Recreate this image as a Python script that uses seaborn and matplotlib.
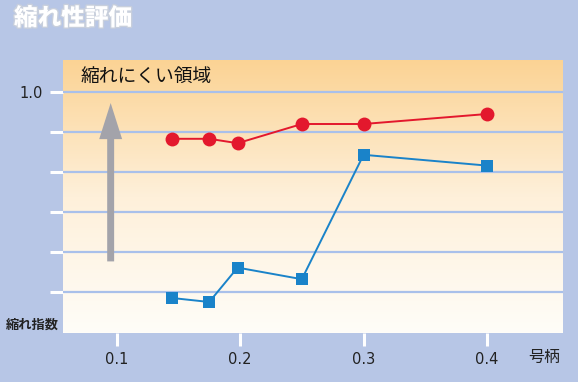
import numpy as np
import pandas as pd
import matplotlib.pyplot as plt
import matplotlib.patheffects as pe
from matplotlib.colors import LinearSegmentedColormap
import seaborn as sns

# data
x_red = [0.145, 0.175, 0.198, 0.25, 0.30, 0.40]
y_red = [0.883, 0.883, 0.872, 0.920, 0.920, 0.945]
x_blue = [0.145, 0.175, 0.198, 0.25, 0.30, 0.40]
y_blue = [0.485, 0.475, 0.561, 0.532, 0.843, 0.816]
x_ticks = [0.1, 0.2, 0.3, 0.4]
y_ticks = [0.5, 0.6, 0.7, 0.8, 0.9, 1.0]
y_ticklabels = ["", "", "", "", "", "1.0"]

sns.set_theme(style="white")
plt.rcParams['font.family'] = ['Noto Sans CJK JP', 'DejaVu Sans']

bg = "#b7c6e6"
fig = plt.figure(figsize=(5.78, 3.82), dpi=100, facecolor=bg)
ax = fig.add_axes([63/578, 1-333/382, 500/578, 273/382])
ax.set_facecolor("white")

# orange -> white vertical gradient
cmap = LinearSegmentedColormap.from_list("bg", ["#fffdf8", "#fef0da", "#fbd394"])
grad = np.linspace(0, 1, 256).reshape(-1, 1)
ax.imshow(grad, cmap=cmap, aspect="auto", origin="lower",
          extent=[0, 1, 0, 1], transform=ax.transAxes, zorder=0)

ax.set_xlim(0.0566, 0.4615)
ax.set_ylim(0.3975, 1.08)

for yv in y_ticks:
    ax.axhline(yv, color="#a9c0ea", lw=1.6, zorder=1)

df_red = pd.DataFrame({"x": x_red, "y": y_red})
df_blue = pd.DataFrame({"x": x_blue, "y": y_blue})
sns.lineplot(data=df_red, x="x", y="y", ax=ax, color="#e3182d", lw=1.4,
             marker="o", markersize=10, markeredgewidth=0, zorder=4)
sns.lineplot(data=df_blue, x="x", y="y", ax=ax, color="#1a83c9", lw=1.4,
             marker="s", markersize=8.5, markeredgewidth=0, zorder=4)

# gray arrow (filled, flat shaft)
ax.annotate("", xy=(0.0952, 0.9725), xytext=(0.0952, 0.5765),
            arrowprops=dict(arrowstyle="simple,head_length=26,head_width=16.5,tail_width=5",
                            mutation_scale=1, fc="#a3a3aa", ec="none", lw=0,
                            shrinkA=0, shrinkB=0),
            zorder=3)

ax.text(0.0705, 1.038, "縮れにくい領域", fontsize=13.5, color="#111111",
        va="center", ha="left", zorder=5)

for s in ax.spines.values():
    s.set_visible(False)

ax.set_xticks(x_ticks)
ax.set_xticklabels([f"{v:.1f}" for v in x_ticks], fontsize=10.5, color="#222222",
                   family="DejaVu Sans")
ax.set_yticks(y_ticks)
ax.set_yticklabels(y_ticklabels, fontsize=10.5, color="#222222", family="DejaVu Sans")
ax.tick_params(axis="y", direction="out", length=9.5, width=2.2, color="white", pad=5,
               left=True)
ax.tick_params(axis="x", direction="out", length=9.5, width=2.2, color="white", pad=4,
               bottom=True)
ax.set_xlabel("")
ax.set_ylabel("")

fig.text(32/578, 1-325/382, "縮れ指数", fontsize=9.5, fontweight="bold",
         color="#222222", ha="center", va="center")
fig.text(544/578, 1-357/382, "号柄", fontsize=11.5, color="#222222",
         ha="center", va="center")
fig.text(14/578, 1-18/382, "縮れ性評価", fontsize=17, fontweight="heavy",
         color="white", ha="left", va="center",
         path_effects=[pe.withStroke(linewidth=2, foreground="#c8cfdc")])

fig.savefig("out.png", dpi=100, facecolor=bg)
